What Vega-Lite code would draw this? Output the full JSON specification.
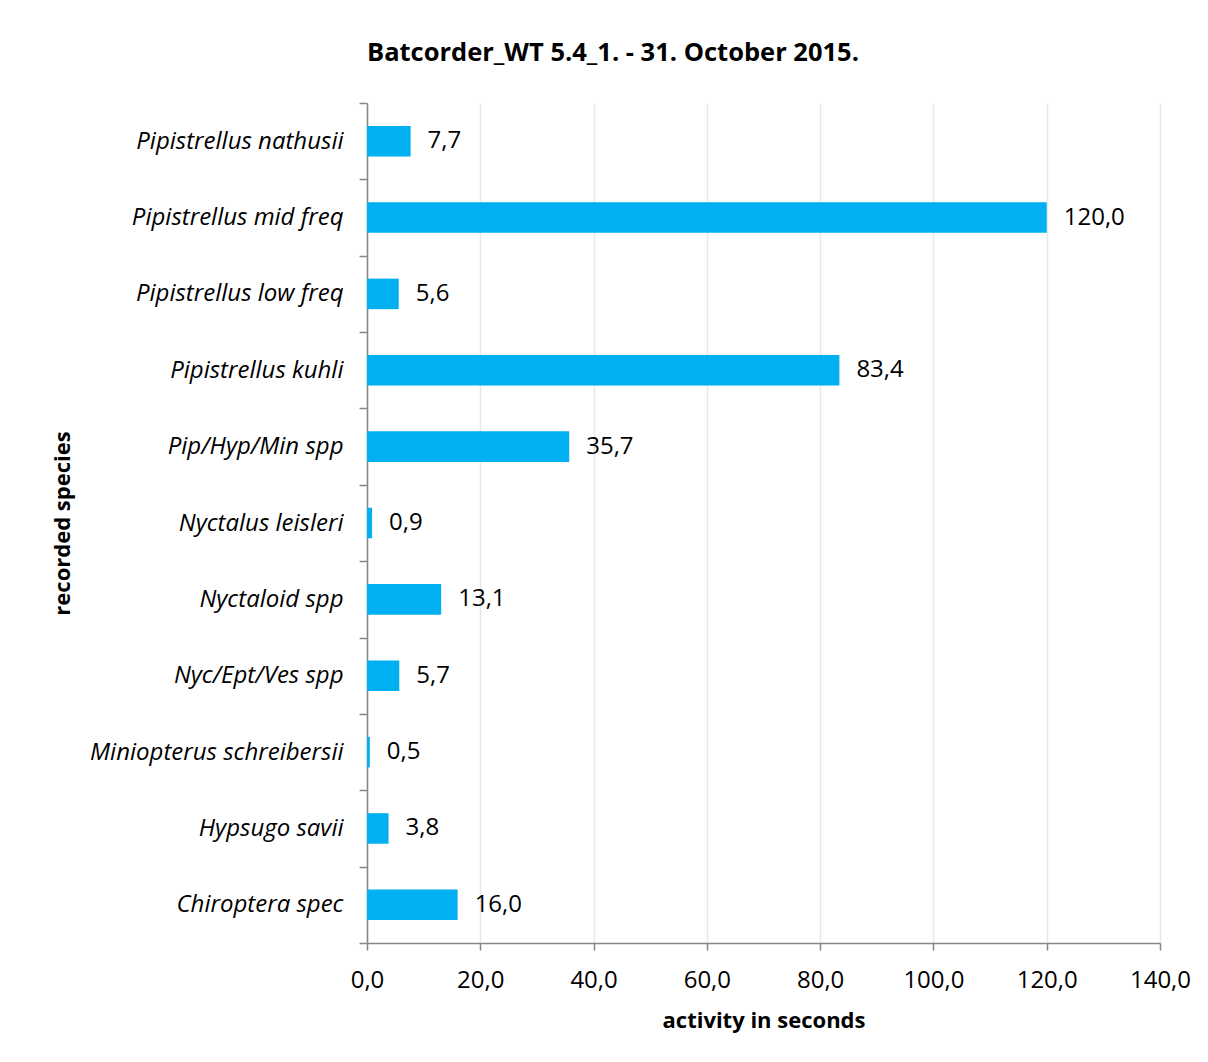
{
  "$schema": "https://vega.github.io/schema/vega-lite/v6.json",
  "autosize": {"type": "none"},
  "padding": {"left": 367, "top": 103, "right": 48, "bottom": 119},
  "width": 793,
  "height": 840,
  "background": "white",
  "title": {
    "text": "Batcorder_WT 5.4_1. - 31. October 2015.",
    "anchor": "start",
    "frame": "group",
    "font": "Open Sans",
    "fontSize": 25.5,
    "fontWeight": "bold",
    "color": "black",
    "offset": 25
  },
  "config": {
    "locale": {"number": {"decimal": ",", "thousands": ".", "grouping": [3], "currency": ["", " €"]}},
    "view": {"stroke": null},
    "font": "Open Sans"
  },
  "data": {
    "values": [
      {"species": "Pipistrellus nathusii", "seconds": 7.7},
      {"species": "Pipistrellus mid freq", "seconds": 120.0},
      {"species": "Pipistrellus low freq", "seconds": 5.6},
      {"species": "Pipistrellus kuhli", "seconds": 83.4},
      {"species": "Pip/Hyp/Min spp", "seconds": 35.7},
      {"species": "Nyctalus leisleri", "seconds": 0.9},
      {"species": "Nyctaloid spp", "seconds": 13.1},
      {"species": "Nyc/Ept/Ves spp", "seconds": 5.7},
      {"species": "Miniopterus schreibersii", "seconds": 0.5},
      {"species": "Hypsugo savii", "seconds": 3.8},
      {"species": "Chiroptera spec", "seconds": 16.0}
    ]
  },
  "encoding": {
    "y": {
      "field": "species",
      "type": "nominal",
      "sort": null,
      "scale": {"paddingInner": 0, "paddingOuter": 0},
      "axis": {
        "title": "recorded species",
        "titleFont": "Open Sans",
        "titleFontSize": 22,
        "titleFontWeight": "bold",
        "titleColor": "black",
        "titleX": -305,
        "titleY": 420,
        "titleAngle": -90,
        "titleAlign": "center",
        "titleBaseline": "middle",
        "labelFont": "Open Sans",
        "labelFontStyle": "italic",
        "labelFontSize": 24,
        "labelColor": "black",
        "labelPadding": 16,
        "labelLimit": 400,
        "tickBand": "extent",
        "tickSize": 8,
        "tickColor": "#868686",
        "domainColor": "#868686",
        "domainWidth": 1.5,
        "tickWidth": 1.5,
        "grid": false
      }
    },
    "x": {
      "field": "seconds",
      "type": "quantitative",
      "scale": {"domain": [0, 140], "nice": false},
      "axis": {
        "title": "activity in seconds",
        "titleFont": "Open Sans",
        "titleFontSize": 22,
        "titleFontWeight": "bold",
        "titleColor": "black",
        "titlePadding": 18,
        "values": [0, 20, 40, 60, 80, 100, 120, 140],
        "format": ".1f",
        "labelFont": "Open Sans",
        "labelFontSize": 24,
        "labelColor": "black",
        "labelPadding": 18,
        "labelFlush": false,
        "tickSize": 7,
        "tickColor": "#868686",
        "domainColor": "#868686",
        "domainWidth": 1.5,
        "tickWidth": 1.5,
        "grid": true,
        "gridColor": "#e8e8e8",
        "gridWidth": 1.5
      }
    }
  },
  "layer": [
    {"mark": {"type": "bar", "color": "#00B0F0", "height": {"band": 0.4}}},
    {
      "mark": {"type": "text", "align": "left", "baseline": "middle", "dx": 17, "font": "Open Sans", "fontSize": 24, "color": "black"},
      "encoding": {"text": {"field": "seconds", "type": "quantitative", "format": ".1f"}}
    }
  ]
}
